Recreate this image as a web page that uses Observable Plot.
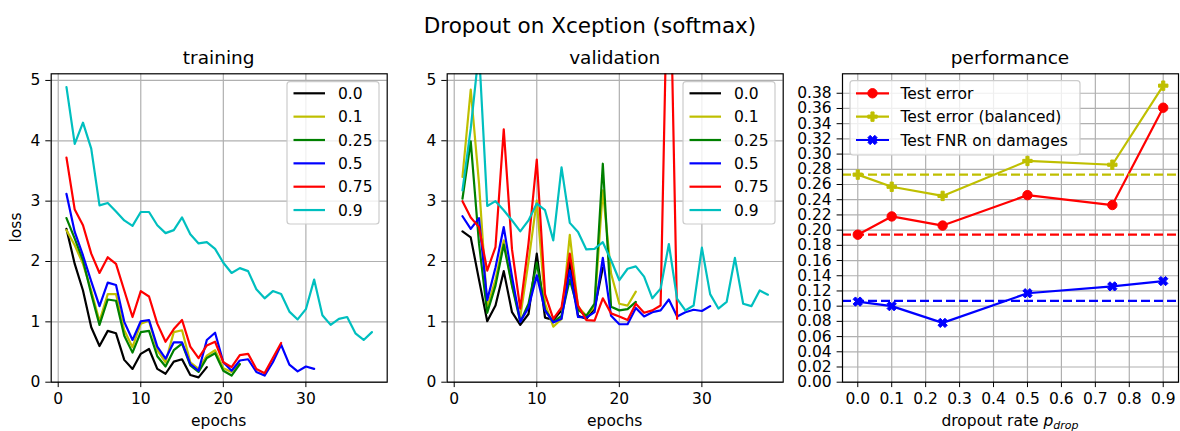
<!DOCTYPE html>
<html><head><meta charset="utf-8">
<script src="https://cdn.jsdelivr.net/npm/d3@7"></script>
<script src="https://cdn.jsdelivr.net/npm/@observablehq/plot@0.6"></script>
<style>
body{margin:0;background:#fff;}
#root{position:relative;width:1180px;height:431px;overflow:hidden;font-family:"DejaVu Sans",sans-serif;}
#root svg{position:absolute;top:0;}
</style></head><body><div id="root"></div>
<script>
// ---------- data ----------
const dropoutLabels = ["0.0","0.1","0.25","0.5","0.75","0.9"];
const seriesColors = ["#000000","#bfbf00","#008000","#0000ff","#ff0000","#00bfbf"];

const train00 = [2.54,1.96,1.52,0.91,0.60,0.85,0.81,0.37,0.22,0.47,0.55,0.22,0.14,0.34,0.38,0.12,0.08,0.25];
const train01 = [2.52,2.27,1.96,1.52,1.01,1.46,1.46,0.86,0.58,0.97,1.02,0.53,0.33,0.83,0.86,0.33,0.22,0.44,0.53,0.23,0.17,0.30];
const train025 = [2.72,2.38,2.02,1.46,0.95,1.37,1.35,0.77,0.49,0.83,0.85,0.43,0.26,0.53,0.64,0.28,0.17,0.40,0.48,0.19,0.11,0.30];
const train05 = [3.12,2.49,2.10,1.67,1.26,1.65,1.61,1.00,0.70,1.01,1.03,0.59,0.39,0.66,0.66,0.30,0.19,0.70,0.82,0.33,0.19,0.36,0.38,0.17,0.11,0.33,0.62,0.29,0.18,0.26,0.22];
const train075 = [3.72,2.86,2.60,2.13,1.81,2.07,1.96,1.52,1.08,1.51,1.42,0.97,0.67,0.88,1.03,0.59,0.40,0.61,0.67,0.33,0.25,0.45,0.47,0.22,0.15,0.40,0.65];
const train09 = [4.89,3.95,4.30,3.87,2.93,2.97,2.83,2.68,2.59,2.82,2.82,2.60,2.47,2.52,2.73,2.45,2.30,2.32,2.21,1.98,1.81,1.89,1.84,1.54,1.39,1.51,1.46,1.17,1.04,1.21,1.70,1.11,0.95,1.05,1.08,0.81,0.70,0.83];

const val00 = [2.50,2.40,1.70,1.01,1.27,1.84,1.16,0.95,1.13,2.13,1.07,1.03,1.19,1.99,1.10,1.05,1.22,1.90];
const val01 = [3.40,4.85,3.30,1.24,1.70,2.35,1.60,1.08,2.00,3.01,1.30,0.92,1.05,2.44,1.25,1.10,1.25,3.18,1.80,1.30,1.27,1.50];
const val025 = [3.04,3.99,2.30,1.15,1.60,2.28,1.60,1.00,1.30,1.98,1.20,1.00,1.10,1.70,1.20,1.10,1.30,3.62,1.25,1.19,1.21,1.33];
const val05 = [2.75,2.54,2.72,1.36,1.90,2.57,1.75,1.00,1.24,1.77,1.19,0.99,1.05,1.85,1.08,1.07,1.16,2.06,1.10,0.96,0.96,1.23,1.09,1.16,1.19,1.37,1.09,1.16,1.20,1.18,1.26];
const val075 = [3.00,2.73,2.57,1.85,2.24,4.19,2.20,1.22,2.30,3.69,1.46,1.05,1.24,2.13,1.27,1.03,1.02,1.39,1.14,1.09,1.03,1.30,1.15,1.19,1.27,8.0,1.05];
const val09 = [3.18,4.20,5.50,2.92,3.00,2.85,2.68,2.50,2.68,2.96,2.85,2.35,3.56,2.64,2.49,2.20,2.21,2.32,2.02,1.69,1.88,1.92,1.75,1.39,1.55,2.29,1.38,1.19,1.27,2.23,1.46,1.22,1.33,2.06,1.30,1.26,1.52,1.45];

const lossTicks = [0,1,2,3,4,5];
const epochTicks = [0,10,20,30];

const dropoutRates = [0, 0.1, 0.25, 0.5, 0.75, 0.9];
const testError = [0.194, 0.218, 0.206, 0.246, 0.233, 0.361];
const testErrorBalanced = [0.273, 0.257, 0.245, 0.291, 0.286, 0.390];
const testFNR = [0.106, 0.100, 0.078, 0.117, 0.126, 0.133];
const baselineError = 0.194, baselineBalanced = 0.273, baselineFNR = 0.107;
const perfNames = ["Test error","Test error (balanced)","Test FNR on damages"];
const perfColors = ["#ff0000","#bfbf00","#0000ff"];
const perfXTicks = [0,0.1,0.2,0.3,0.4,0.5,0.6,0.7,0.8,0.9];
const perfYTicks = d3.range(0, 20).map(i => i/50);

// ---------- helpers ----------
const FONT = "DejaVu Sans";
const TICK = 5.4, PAD = 5.4, LW = 2.2, GRID = "#b0b0b0";

function toLong(arrays){
  const out = [];
  arrays.forEach((arr, s) => arr.forEach((v, i) => out.push({epoch: i + 1, loss: v, series: dropoutLabels[s]})));
  return out;
}
const plusFilled = {draw(ctx, size){
  const r = Math.sqrt(size/Math.PI), w = r/3;
  const p = [[-w,-r],[w,-r],[w,-w],[r,-w],[r,w],[w,w],[w,r],[-w,r],[-w,w],[-r,w],[-r,-w],[-w,-w]];
  p.forEach((q,i)=> i ? ctx.lineTo(q[0],q[1]) : ctx.moveTo(q[0],q[1])); ctx.closePath();
}};
const xFilled = {draw(ctx, size){
  const r = Math.sqrt(size/Math.PI)*1.05, w = r/3, c = Math.SQRT1_2;
  const p = [[-w,-r],[w,-r],[w,-w],[r,-w],[r,w],[w,w],[w,r],[-w,r],[-w,w],[-r,w],[-r,-w],[-w,-w]]
    .map(([x,y]) => [c*(x - y), c*(x + y)]);
  p.forEach((q,i)=> i ? ctx.lineTo(q[0],q[1]) : ctx.moveTo(q[0],q[1])); ctx.closePath();
}};
const perfSymbols = ["circle", plusFilled, xFilled];

function lossPanel(arrays, left){
  const data = toLong(arrays);
  const p = Plot.plot({
    width: 400, height: 431,
    marginLeft: 50.7, marginRight: 13.3, marginTop: 73.3, marginBottom: 49.3,
    style: {fontFamily: FONT, fontSize: "15.5px", color: "#000", background: "transparent"},
    x: {domain: [-0.85, 39.85]},
    y: {domain: [0, 5.11]},
    color: {domain: dropoutLabels, range: seriesColors},
    marks: [
      Plot.gridX(epochTicks, {stroke: GRID, strokeOpacity: 1, strokeWidth: 1.2}),
      Plot.gridY(lossTicks, {stroke: GRID, strokeOpacity: 1, strokeWidth: 1.2}),
      Plot.line(data, {x: "epoch", y: "loss", z: "series", stroke: "series", strokeWidth: LW, strokeLinejoin: "round", clip: true}),
      Plot.frame({stroke: "#000", strokeWidth: 1.2}),
      Plot.axisX(epochTicks, {tickSize: TICK, tickPadding: PAD, label: null, tickFormat: d3.format("d")}),
      Plot.axisY(lossTicks, {tickSize: TICK, tickPadding: PAD, label: null, tickFormat: d3.format("d")})
    ]
  });
  p.style.left = left + "px";
  return p;
}

const root = document.getElementById("root");
root.appendChild(lossPanel([train00, train01, train025, train05, train075, train09], 0));
root.appendChild(lossPanel([val00, val01, val025, val05, val075, val09], 396));

const perfData = [];
[testError, testErrorBalanced, testFNR].forEach((arr, s) => arr.forEach((v, i) => perfData.push({rate: dropoutRates[i], value: v, name: perfNames[s]})));
const perf = Plot.plot({
  width: 402, height: 431,
  marginLeft: 64, marginRight: 2, marginTop: 73.3, marginBottom: 49.3,
  style: {fontFamily: FONT, fontSize: "15.5px", color: "#000", background: "transparent"},
  x: {domain: [-0.045, 0.945]},
  y: {domain: [0, 0.4056]},
  color: {domain: perfNames, range: perfColors},
  symbol: {domain: perfNames, range: perfSymbols},
  marks: [
    Plot.gridX(perfXTicks, {stroke: GRID, strokeOpacity: 1, strokeWidth: 1.2}),
    Plot.gridY(perfYTicks, {stroke: GRID, strokeOpacity: 1, strokeWidth: 1.2}),
    Plot.line(perfData, {x: "rate", y: "value", z: "name", stroke: "name", strokeWidth: LW, strokeLinejoin: "round"}),
    Plot.dot(perfData, {x: "rate", y: "value", fill: "name", stroke: "name", strokeWidth: 1, symbol: "name", r: 4.7}),
    Plot.ruleY([baselineError], {stroke: perfColors[0], strokeWidth: LW, strokeDasharray: "9,4"}),
    Plot.ruleY([baselineBalanced], {stroke: perfColors[1], strokeWidth: LW, strokeDasharray: "9,4"}),
    Plot.ruleY([baselineFNR], {stroke: perfColors[2], strokeWidth: LW, strokeDasharray: "9,4"}),
    Plot.frame({stroke: "#000", strokeWidth: 1.2}),
    Plot.axisX(perfXTicks, {tickSize: TICK, tickPadding: PAD, label: null, tickFormat: d3.format(".1f")}),
    Plot.axisY(perfYTicks, {tickSize: TICK, tickPadding: PAD, label: null, tickFormat: d3.format(".2f")})
  ]
});
perf.style.left = "778px";
root.appendChild(perf);

// ---------- overlay: titles, labels, legends ----------
const ov = d3.select(root).append("svg")
  .attr("width", 1180).attr("height", 431)
  .style("left", "0px").style("pointer-events", "none")
  .attr("font-family", FONT).attr("fill", "#000");

ov.append("text").attr("x", 590).attr("y", 32.5).attr("text-anchor", "middle").attr("font-size", 21.5).text("Dropout on Xception (softmax)");
[["training", 218.7], ["validation", 614.7], ["performance", 1010]].forEach(([t, x]) =>
  ov.append("text").attr("x", x).attr("y", 64).attr("text-anchor", "middle").attr("font-size", 18.5).text(t));

ov.append("text").attr("x", 218.7).attr("y", 426).attr("text-anchor", "middle").attr("font-size", 15.5).text("epochs");
ov.append("text").attr("x", 614.7).attr("y", 426).attr("text-anchor", "middle").attr("font-size", 15.5).text("epochs");
ov.append("text").attr("transform", "translate(20.5,227.5) rotate(-90)").attr("text-anchor", "middle").attr("font-size", 15.5).text("loss");
const xl = ov.append("text").attr("x", 1010).attr("y", 426).attr("text-anchor", "middle").attr("font-size", 15.5);
xl.append("tspan").text("dropout rate ");
xl.append("tspan").attr("font-style", "italic").text("p");
xl.append("tspan").attr("font-style", "italic").attr("font-size", 11).attr("dy", 3).text("drop");

function lossLegend(x0, x1){
  ov.append("rect").attr("x", x0).attr("y", 81.7).attr("width", x1 - x0).attr("height", 142.3)
    .attr("rx", 3).attr("fill", "#fff").attr("fill-opacity", 0.8).attr("stroke", "#cccccc").attr("stroke-width", 1.2);
  dropoutLabels.forEach((lab, i) => {
    const y = 93.3 + i * 23.35;
    ov.append("line").attr("x1", x0 + 6.5).attr("x2", x0 + 38).attr("y1", y).attr("y2", y)
      .attr("stroke", seriesColors[i]).attr("stroke-width", LW);
    ov.append("text").attr("x", x0 + 51).attr("y", y + 5.5).attr("font-size", 15.5).text(lab);
  });
}
lossLegend(287, 379);
lossLegend(683, 775);

ov.append("rect").attr("x", 850).attr("y", 80.7).attr("width", 230).attr("height", 74.3)
  .attr("rx", 3).attr("fill", "#fff").attr("fill-opacity", 0.8).attr("stroke", "#cccccc").attr("stroke-width", 1.2);
perfNames.forEach((nm, i) => {
  const y = 93.3 + i * 23.35;
  ov.append("line").attr("x1", 856).attr("x2", 889).attr("y1", y).attr("y2", y)
    .attr("stroke", perfColors[i]).attr("stroke-width", LW);
  ov.append("path").attr("transform", `translate(872.5,${y})`)
    .attr("d", d3.symbol(i === 0 ? d3.symbolCircle : perfSymbols[i], 4.7 * 4.7 * Math.PI)())
    .attr("fill", perfColors[i]).attr("stroke", perfColors[i]).attr("stroke-width", 1);
  ov.append("text").attr("x", 900.5).attr("y", y + 5.5).attr("font-size", 15.5).text(nm);
});
</script></body></html>
